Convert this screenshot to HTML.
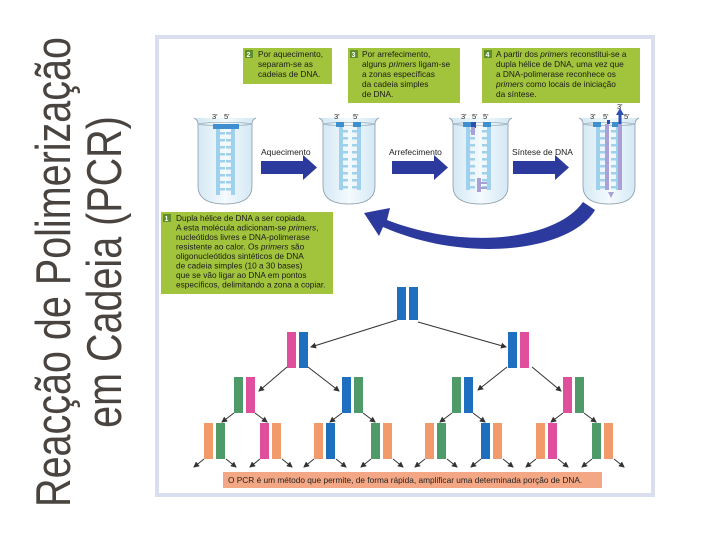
<!DOCTYPE html>
<html><head><meta charset="utf-8"><style>
html,body{margin:0;padding:0;background:#fff;width:720px;height:540px;overflow:hidden;position:relative;font-family:"Liberation Sans",sans-serif}
.title{position:absolute;left:1px;top:540px;width:536px;transform-origin:0 0;transform:rotate(-90deg) scaleY(1.25);text-align:center;font-size:39.5px;line-height:41.6px;padding-top:21.5px;color:#4a4440;white-space:nowrap}
svg{position:absolute;left:0;top:0}
</style></head><body>
<div class="title">Reacção de Polimerização<br>em Cadeia (PCR)</div>
<svg width="720" height="540" viewBox="0 0 720 540" font-family="Liberation Sans, sans-serif">
<defs>
<marker id="ah" markerWidth="6" markerHeight="6" refX="5" refY="3" orient="auto" markerUnits="userSpaceOnUse"><path d="M0,0 L6,3 L0,6 z" fill="#333"/></marker>
<linearGradient id="bk" x1="0" x2="1"><stop offset="0" stop-color="#cfe6f3"/><stop offset="0.5" stop-color="#f4fafd"/><stop offset="1" stop-color="#cfe6f3"/></linearGradient>
</defs>
<rect x="157" y="37" width="496" height="458" fill="#fff" stroke="#dadff0" stroke-width="4"/>
<g id="g"></g>
<g font-size="8.3" fill="#1a1a1a">
<rect x="243" y="48" width="89" height="36" fill="#a2c43c"/>
<rect x="245" y="50" width="8" height="8" fill="#5e8d2c"/><text x="246.5" y="57" fill="#fff" font-size="7" font-weight="bold">2</text>
<text x="258" y="57">Por aquecimento,</text><text x="258" y="67">separam-se as</text><text x="258" y="77">cadeias de DNA.</text>
<rect x="348" y="48" width="112" height="55" fill="#a2c43c"/>
<rect x="350" y="50" width="8" height="8" fill="#5e8d2c"/><text x="351.5" y="57" fill="#fff" font-size="7" font-weight="bold">3</text>
<text x="362" y="57">Por arrefecimento,</text><text x="362" y="67">alguns <tspan font-style="italic">primers</tspan> ligam-se</text><text x="362" y="77">a zonas específicas</text><text x="362" y="87">da cadeia simples</text><text x="362" y="97">de DNA.</text>
<rect x="482" y="48" width="158" height="55" fill="#a2c43c"/>
<rect x="484" y="50" width="8" height="8" fill="#5e8d2c"/><text x="485.5" y="57" fill="#fff" font-size="7" font-weight="bold">4</text>
<text x="496" y="57">A partir dos <tspan font-style="italic">primers</tspan> reconstitui-se a</text><text x="496" y="67">dupla hélice de DNA, uma vez que</text><text x="496" y="77">a DNA-polimerase reconhece os</text><text x="496" y="87"><tspan font-style="italic">primers</tspan> como locais de iniciação</text><text x="496" y="97">da síntese.</text>
<rect x="161" y="212" width="172" height="82" fill="#a2c43c"/>
<rect x="163" y="214" width="8" height="8" fill="#5e8d2c"/><text x="164.5" y="221" fill="#fff" font-size="7" font-weight="bold">1</text>
<text x="176" y="221">Dupla hélice de DNA a ser copiada.</text>
<text x="176" y="230.5">A esta molécula adicionam-se <tspan font-style="italic">primers</tspan>,</text>
<text x="176" y="240">nucleótidos livres e DNA-polimerase</text>
<text x="176" y="249.5">resistente ao calor. Os <tspan font-style="italic">primers</tspan> são</text>
<text x="176" y="259">oligonucleótidos sintéticos de DNA</text>
<text x="176" y="268.5">de cadeia simples (10 a 30 bases)</text>
<text x="176" y="278">que se vão ligar ao DNA em pontos</text>
<text x="176" y="287.5">específicos, delimitando a zona a copiar.</text>
</g>
<g fill="#2b3a9c">
<path d="M261,161 H303 V155 L317,167.5 L303,180 V174 H261 z"/>
<path d="M392,161 H434 V155 L448,167.5 L434,180 V174 H392 z"/>
<path d="M513,161 H555 V155 L569,167.5 L555,180 V174 H513 z"/>
<path d="M583,202 C558,238 470,252 387,220 L390,208 L364,213 L379,236 L383,227 C470,265 572,250 595,210 z"/>
</g>
<g font-size="8.5" fill="#222">
<text x="261" y="155">Aquecimento</text>
<text x="389" y="155">Arrefecimento</text>
<text x="512" y="155">Síntese de DNA</text>
</g>
<rect x="223" y="472" width="379" height="16" fill="#f4a784"/>
<text x="228" y="483" font-size="8.3" fill="#222">O PCR é um método que permite, de forma rápida, amplificar uma determinada porção de DNA.</text>
</svg>
<script>
var g=document.getElementById('g'),s='';
function R(x,y,w,h,c){s+='<rect x="'+x+'" y="'+y+'" width="'+w+'" height="'+h+'" fill="'+c+'"/>';}
function L(a,b,c,d){s+='<line x1="'+a+'" y1="'+b+'" x2="'+c+'" y2="'+d+'" stroke="#333" stroke-width="1" marker-end="url(#ah)"/>';}
var C={b:'#1f6fc0',p:'#e04f9c',g:'#4e9a68',o:'#f39a6a'};
function P(x,y,h,a,b){R(x,y,9,h,C[a]);R(x+12,y,9,h,C[b]);}
function beaker(x,w){s+='<path d="M'+(x-4)+',118 Q'+x+',120 '+x+',124 V186 Q'+x+',204 '+(x+w/2)+',204 Q'+(x+w)+',204 '+(x+w)+',186 V124 Q'+(x+w)+',120 '+(x+w+4)+',118" fill="url(#bk)" stroke="#8a9aa8" stroke-width="0.8"/>';
s+='<ellipse cx="'+(x+w/2)+'" cy="124" rx="'+(w/2)+'" ry="1.5" fill="none" stroke="#8a9aa8" stroke-width="0.6"/>';}
beaker(198,54);beaker(323,52);beaker(453,55);beaker(583,52);
function ladder(x,y1,y2,dir,col){R(x,y1,4,y2-y1,col||'#9fd0ec');for(var y=y1+4;y<y2;y+=7)R(dir>0?x+4:x-5,y,5,2.5,col||'#9fd0ec');}
ladder(216,128,195,1);ladder(231,128,195,-1);R(213,124,26,5,'#3d8fcf');
ladder(339,126,190,1);ladder(357,126,190,-1);R(336,122,8,5,'#3d8fcf');R(353,122,8,5,'#3d8fcf');
ladder(466,126,190,1);ladder(487,126,190,-1);R(463,122,8,5,'#3d8fcf');R(483,122,8,5,'#3d8fcf');R(471,122,5,6,'#2b50b0');R(471,127,4,8,'#a9a0d8');R(477,178,4,14,'#a9a0d8');R(481,182,6,2,'#a9a0d8');R(481,187,6,2,'#a9a0d8');
ladder(596,126,190,1);ladder(616,126,190,-1);R(593,122,8,5,'#3d8fcf');R(612,122,8,5,'#3d8fcf');
R(605,124,4,66,'#a9a0d8');R(607,120,3,4,'#2b50b0');
s+='<path d="M611,198 l3,-6 l-6,0z" fill="#a9a0d8"/>';
R(618,124,4,66,'#a9a0d8');s+='<path d="M620,108 l4,7 h-8z" fill="#2b50b0"/>';R(618.5,114,3,10,'#2b50b0');
var t='<g font-size="7.5" fill="#222">';
[[212,'3\''],[224,'5\''],[334,'3\''],[353,'5\''],[461,'3\''],[472,'5\''],[483,'5\''],[590,'3\''],[603,'5\''],[617,'3\''],[624,'5\'']].forEach(function(a,i){var y=(i==9)?109:119;t+='<text x="'+a[0]+'" y="'+y+'">'+a[1]+'</text>';});
s+=t+'</g>';
P(397,287,33,'b','b');
P(287,332,36,'p','b');P(508,332,36,'b','p');
P(234,377,36,'g','p');P(342,377,36,'b','g');P(452,377,36,'g','b');P(563,377,36,'p','g');
var l4=[[204,'o','g'],[260,'p','o'],[314,'o','b'],[371,'g','o'],[425,'o','g'],[481,'b','o'],[536,'o','p'],[592,'g','o']];
l4.forEach(function(a){P(a[0],423,36,a[1],a[2]);L(a[0],459,a[0]-10,467);L(a[0]+22,459,a[0]+32,467);});
L(397,320,311,347);L(418,322,506,347);
L(287,367,259,391);L(308,367,339,391);L(507,367,478,390);L(532,367,561,391);
[234,342,452,563].forEach(function(x){L(x,413,x-12,422);L(x+21,413,x+33,422);});
g.innerHTML=s;
</script>
</body></html>
